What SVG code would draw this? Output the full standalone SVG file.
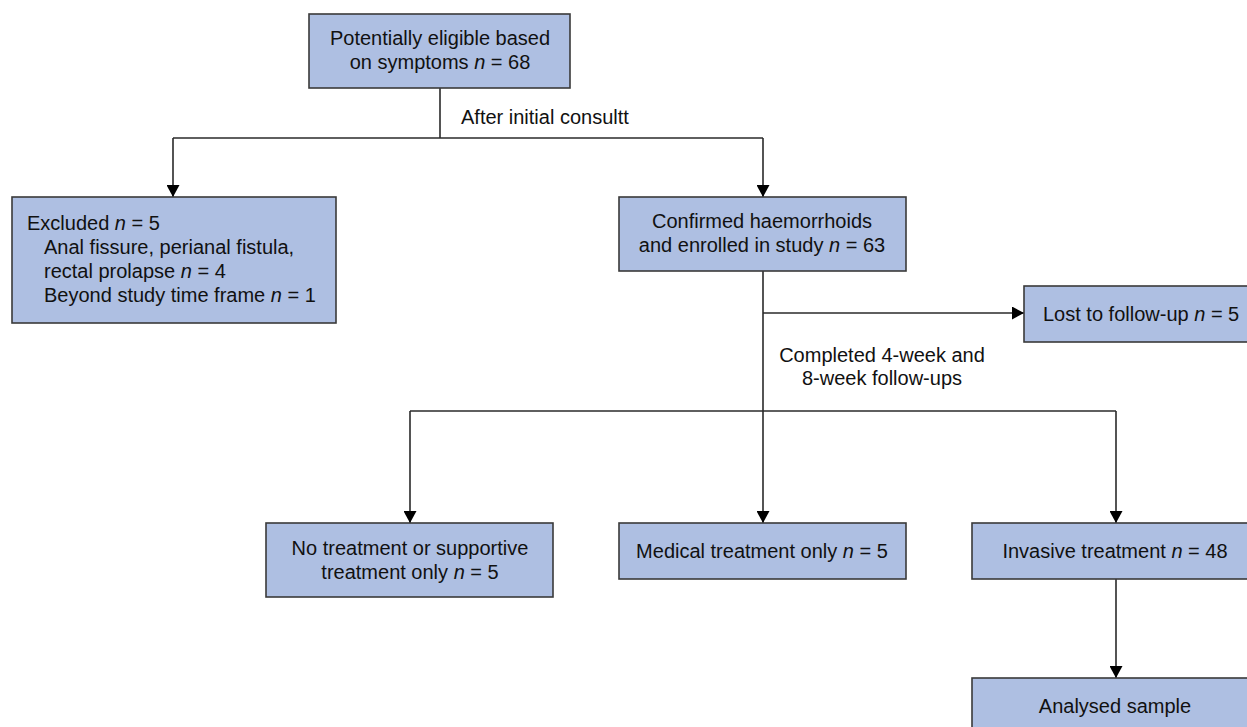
<svg xmlns="http://www.w3.org/2000/svg" width="1247" height="727" viewBox="0 0 1247 727">
<style>
.box{fill:#aebfe2;stroke:#3a3a3a;stroke-width:1.6}
.ln{fill:none;stroke:#2a2a2a;stroke-width:1.6}
.t{font-family:"Liberation Sans",Arial,sans-serif;font-size:20px;fill:#111}
.c{text-anchor:middle}
.i{font-style:italic}
</style>
<defs>
<marker id="ah" markerUnits="userSpaceOnUse" markerWidth="13" markerHeight="13" refX="12" refY="6.5" orient="auto">
<path d="M0,0 L12,6.5 L0,13 Z" fill="#000"/>
</marker>
</defs>
<rect width="1247" height="727" fill="#fff"/>
<g id="connectors">
<path class="ln" d="M440,88 V138"/>
<path class="ln" d="M173,138 H763"/>
<path class="ln" d="M173,138 V197" marker-end="url(#ah)"/>
<path class="ln" d="M763,138 V197" marker-end="url(#ah)"/>
<path class="ln" d="M763,271 V411"/>
<path class="ln" d="M763,313 H1024" marker-end="url(#ah)"/>
<path class="ln" d="M410,411 H1116"/>
<path class="ln" d="M410,411 V523" marker-end="url(#ah)"/>
<path class="ln" d="M763,411 V523" marker-end="url(#ah)"/>
<path class="ln" d="M1116,411 V523" marker-end="url(#ah)"/>
<path class="ln" d="M1116,579 V678" marker-end="url(#ah)"/>
<text class="t" x="461" y="124">After initial consultt</text>
<text class="t c" x="882" y="362">Completed 4-week and</text>
<text class="t c" x="882" y="385">8-week follow-ups</text>
</g>
<g id="n-eligible">
<rect class="box" x="309" y="14" width="261" height="74"/>
<text class="t c" x="440" y="45">Potentially eligible based</text>
<text class="t c" x="440" y="69">on symptoms <tspan class="i">n</tspan> = 68</text>
</g>
<g id="n-excluded">
<rect class="box" x="12" y="197" width="324" height="126"/>
<text class="t" x="27" y="230">Excluded <tspan class="i">n</tspan> = 5</text>
<text class="t" x="44" y="254">Anal fissure, perianal fistula,</text>
<text class="t" x="44" y="278">rectal prolapse <tspan class="i">n</tspan> = 4</text>
<text class="t" x="44" y="302">Beyond study time frame <tspan class="i">n</tspan> = 1</text>
</g>
<g id="n-confirmed">
<rect class="box" x="619" y="197" width="287" height="74"/>
<text class="t c" x="762" y="228">Confirmed haemorrhoids</text>
<text class="t c" x="762" y="252">and enrolled in study <tspan class="i">n</tspan> = 63</text>
</g>
<g id="n-lost">
<rect class="box" x="1024" y="286" width="240" height="56"/>
<text class="t" x="1043" y="321">Lost to follow-up <tspan class="i">n</tspan> = 5</text>
</g>
<g id="n-notreat">
<rect class="box" x="266" y="523" width="287" height="74"/>
<text class="t c" x="410" y="555">No treatment or supportive</text>
<text class="t c" x="410" y="579">treatment only <tspan class="i">n</tspan> = 5</text>
</g>
<g id="n-medical">
<rect class="box" x="619" y="523" width="287" height="56"/>
<text class="t c" x="762" y="558">Medical treatment only <tspan class="i">n</tspan> = 5</text>
</g>
<g id="n-invasive">
<rect class="box" x="972" y="523" width="288" height="56"/>
<text class="t c" x="1115" y="558">Invasive treatment <tspan class="i">n</tspan> = 48</text>
</g>
<g id="n-analysed">
<rect class="box" x="972" y="678" width="288" height="70"/>
<text class="t c" x="1115" y="713">Analysed sample</text>
</g>
</svg>
